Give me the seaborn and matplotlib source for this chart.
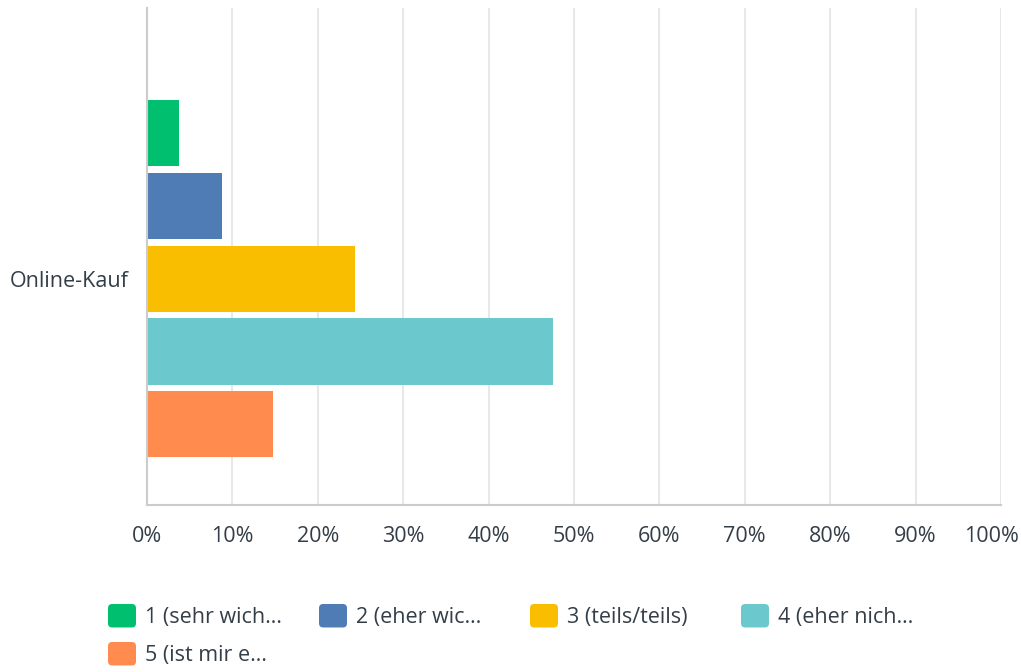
import pandas as pd
import matplotlib
matplotlib.use('Agg')
import matplotlib.pyplot as plt
import seaborn as sns
from matplotlib.patches import FancyBboxPatch, Patch
from matplotlib.legend_handler import HandlerPatch
from matplotlib.ticker import PercentFormatter
from matplotlib.transforms import ScaledTranslation

# Data
question = 'Online-Kauf'
answers = ['1 (sehr wich…', '2 (eher wic…', '3 (teils/teils)', '4 (eher nich…', '5 (ist mir e…']
shares = [3.8, 8.8, 24.4, 47.5, 14.8]
colors = ['#00BF6F', '#507CB6', '#F9BE00', '#6BC8CD', '#FF8B4F']

df = pd.DataFrame({'Frage': [question] * len(answers), 'Antwort': answers, 'Anteil': shares})

sns.set_style('white')
plt.rcParams['font.family'] = ['Open Sans', 'DejaVu Sans']
text_color = '#333E48'
fs = 15.5

W, H = 1021, 672
fig = plt.figure(figsize=(W / 100, H / 100), dpi=100)
ax = fig.add_axes([147 / W, 1 - 505 / H, (1001 - 147) / W, (505 - 8) / H])

sns.barplot(data=df, x='Anteil', y='Frage', hue='Antwort', palette=colors,
            orient='h', width=0.82, gap=0.09, legend=False, ax=ax,
            saturation=1, linewidth=0)

ax.set_xlim(0, 100)
ax.set_ylim(0.51, -0.61)
ax.set_xticks(range(0, 101, 10))
ax.xaxis.set_major_formatter(PercentFormatter(decimals=0))
ax.grid(axis='x', color='#E8E8E8', linewidth=1.5)
ax.set_axisbelow(True)
ax.set_xlabel('')
ax.set_ylabel('')
for s in ['top', 'right']:
    ax.spines[s].set_visible(False)
for s in ['left', 'bottom']:
    ax.spines[s].set_color('#CCCCCC')
    ax.spines[s].set_linewidth(1.5)
ax.tick_params(axis='x', length=0, pad=15, labelsize=fs, labelcolor=text_color)
ax.tick_params(axis='y', length=0, pad=13, labelsize=fs, labelcolor=text_color)

# keep the 100% label inside the figure
last = ax.get_xticklabels()[-1]
last.set_transform(last.get_transform() + ScaledTranslation(-0.1, 0, fig.dpi_scale_trans))


class RoundBox(HandlerPatch):
    def create_artists(self, legend, orig_handle, xdescent, ydescent, width, height, fontsize, trans):
        p = FancyBboxPatch((-xdescent, -ydescent), width, height,
                           boxstyle='round,pad=0,rounding_size=3',
                           fc=orig_handle.get_facecolor(), ec='none', transform=trans)
        return [p]


# one legend per entry so the columns sit at a fixed pitch
for i, (lab, col) in enumerate(zip(answers, colors)):
    row, c = divmod(i, 4)
    x0 = 108 + c * 211
    y0 = 604 + row * 38
    fig.legend([Patch(facecolor=col)], [lab], loc='upper left',
               bbox_to_anchor=(x0 / W, 1 - y0 / H),
               frameon=False, fontsize=fs, labelcolor=text_color,
               handlelength=28 / (fs * 100 / 72), handleheight=28 / (fs * 100 / 72),
               handletextpad=0.42, borderpad=0, borderaxespad=0,
               handler_map={Patch: RoundBox()})

fig.savefig('out.png', dpi=100)
